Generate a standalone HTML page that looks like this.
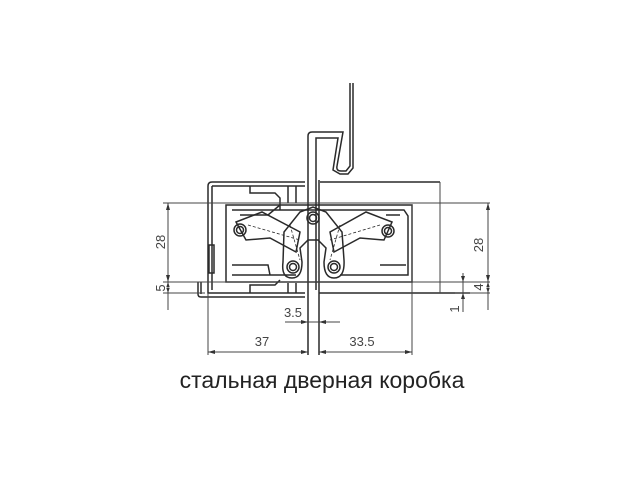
<!DOCTYPE html>
<html><head><meta charset="utf-8"><style>
html,body{margin:0;padding:0;background:#fff;width:640px;height:480px;overflow:hidden}
svg{display:block}
</style></head><body>
<svg width="640" height="480" viewBox="0 0 640 480" xmlns="http://www.w3.org/2000/svg">
<g fill="none" stroke="#2a2a2a" stroke-width="1.5">
<path d="M308,290 V136 Q308,132 312,132 H343 L337,166 Q336,171 341,171 H346 L350,166 V83"/>
<path d="M353,83 V168 L348,174 H340 L333,170 L338,138 H316 V290"/>
<path d="M319,180 V355 M308,290 V355"/>
<path d="M440,182 H320 M305,182 H212 Q208,182 208,186 V293 H305"/>
<path d="M212,186 H305 M212,186 V290"/>
<path d="M319,293 H470"/>
<path d="M198,282 V294 Q198,297 201,297 H305"/>
<path d="M201,282 V294"/>
<rect x="209" y="245" width="5" height="28"/>
<path d="M250,186 V193 H275 L280,198 V210 M288,186 V203 M296,186 V203"/>
<path d="M250,293 V285 H275 L280,280 M288,293 V283 M296,293 V283"/>
<path d="M226,205 H412 V282 H226 Z"/>
<path d="M232,210 H404 L408,216 V275 H340 M296,275 H232 Z"/>
<path d="M240,215 H268 L280,205 M386,215 H400 M232,265 H268 L270,275"/>
<path d="M380,265 H406"/>
<path d="M236,222 L262,212 L300,232 L296,252 L270,238 L246,240 Z"/>
<path d="M392,222 L366,212 L330,232 L334,252 L360,238 L384,240 Z"/>
<path d="M300,212 L313,207 L326,212 L342,232 L344,260 Q345,278 334,278 Q324,278 324,262 L326,248 L318,240 H308 L300,248 L302,262 Q302,278 292,278 Q281,278 283,262 L284,232 Z"/>
<g stroke-dasharray="3,2" stroke-width="0.8">
<path d="M248,225 L300,240 M380,225 L330,240 M290,225 L300,260 M340,225 L330,260"/>
</g>
<circle cx="240" cy="230" r="6"/><circle cx="240" cy="230" r="3.5"/>
<circle cx="313" cy="218" r="6"/><circle cx="313" cy="218" r="3.5"/>
<circle cx="293" cy="267" r="6"/><circle cx="293" cy="267" r="3.5"/>
<circle cx="334" cy="267" r="6"/><circle cx="334" cy="267" r="3.5"/>
<circle cx="388" cy="231" r="6"/><circle cx="388" cy="231" r="3.5"/>
</g>
<g fill="none" stroke="#444" stroke-width="1">
<path d="M163,203 H490 M163,282 H455 M163,293 H205 M440,182 V293 M412,205 V355 M208,293 V355"/>
<path d="M455,282 H490 M455,293 H490"/>
<path d="M168,203 V282 M168,282 V293 M168,293 V310"/>
<path d="M488,203 V282 M488,282 V293 M488,293 V310 M463,273 V312"/>
<path d="M285,322 H340 M208,352 H308 M319,352 H412"/>
</g>
<g fill="#333">
<path d="M168,203 l-2,7 h4z M168,282 l-2,-7 h4z M168,282 l-2,6 h4z M168,293 l-2,-6 h4z"/>
<path d="M488,203 l-2,7 h4z M488,282 l-2,-7 h4z M488,282 l-2,6 h4z M488,293 l-2,-6 h4z"/>
<path d="M463,282 l-2,-6 h4z M463,293 l-2,6 h4z"/>
<path d="M308,322 l-7,-2 v4z M319,322 l7,-2 v4z"/>
<path d="M208,352 l7,-2 v4z M308,352 l-7,-2 v4z M319,352 l7,-2 v4z M412,352 l-7,-2 v4z"/>
</g>
<g font-family="Liberation Sans, sans-serif" font-size="13" fill="#444">
<text transform="translate(165,242) rotate(-90)" text-anchor="middle">28</text>
<text transform="translate(165,288) rotate(-90)" text-anchor="middle">5</text>
<text transform="translate(483,245) rotate(-90)" text-anchor="middle">28</text>
<text transform="translate(483,287) rotate(-90)" text-anchor="middle">4</text>
<text transform="translate(459,309) rotate(-90)" text-anchor="middle">1</text>
<text x="293" y="317" text-anchor="middle">3.5</text>
<text x="262" y="346" text-anchor="middle">37</text>
<text x="362" y="346" text-anchor="middle">33.5</text>
</g>
<text x="322" y="388" text-anchor="middle" font-family="Liberation Sans, sans-serif" font-size="23" fill="#222">стальная дверная коробка</text>
</svg>
</body></html>
